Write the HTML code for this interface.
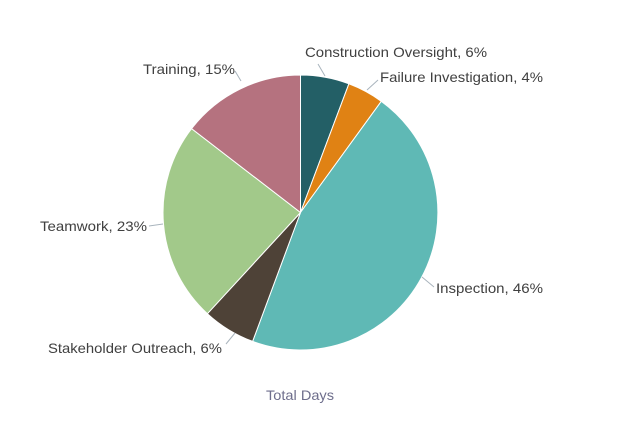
<!DOCTYPE html>
<html><head><meta charset="utf-8"><style>
html,body{margin:0;padding:0;background:#fff;}
svg{display:block;font-family:"Liberation Sans",sans-serif;}
</style></head><body>
<svg width="619" height="427" viewBox="0 0 619 427">
<g stroke="#fff" stroke-width="1">
<path d="M300.5,212.5 L300.5,75 A137.5,137.5 0 0 1 348.9,83.8 Z" fill="#235f66"/>
<path d="M300.5,212.5 L348.9,83.8 A137.5,137.5 0 0 1 381.3,101.3 Z" fill="#e08214"/>
<path d="M300.5,212.5 L381.3,101.3 A137.5,137.5 0 0 1 252.6,341.4 Z" fill="#5fb9b5"/>
<path d="M300.5,212.5 L252.6,341.4 A137.5,137.5 0 0 1 207.4,313.7 Z" fill="#4e4237"/>
<path d="M300.5,212.5 L207.4,313.7 A137.5,137.5 0 0 1 191.6,128.6 Z" fill="#a2c98a"/>
<path d="M300.5,212.5 L191.6,128.6 A137.5,137.5 0 0 1 300.5,75 Z" fill="#b5727f"/>
</g>
<g stroke="#a9b4bd" stroke-width="1" fill="none">
<line x1="325" y1="76" x2="318" y2="64"/>
<line x1="367" y1="90" x2="378" y2="80"/>
<line x1="422" y1="277" x2="434" y2="287"/>
<line x1="235" y1="333" x2="226" y2="344"/>
<line x1="163" y1="224" x2="149" y2="226"/>
<line x1="241" y1="81" x2="235" y2="71"/>
</g>
<g fill="#404040" font-size="14">
<text x="305" y="57" textLength="182" lengthAdjust="spacingAndGlyphs">Construction Oversight, 6%</text>
<text x="380" y="82" textLength="163" lengthAdjust="spacingAndGlyphs">Failure Investigation, 4%</text>
<text x="436" y="293" textLength="107" lengthAdjust="spacingAndGlyphs">Inspection, 46%</text>
<text x="48" y="353" textLength="174" lengthAdjust="spacingAndGlyphs">Stakeholder Outreach, 6%</text>
<text x="40" y="231" textLength="107" lengthAdjust="spacingAndGlyphs">Teamwork, 23%</text>
<text x="143" y="74" textLength="92" lengthAdjust="spacingAndGlyphs">Training, 15%</text>
</g>
<text x="266" y="400" fill="#6e6e8c" font-size="14" textLength="68" lengthAdjust="spacingAndGlyphs">Total Days</text>
</svg>
</body></html>
